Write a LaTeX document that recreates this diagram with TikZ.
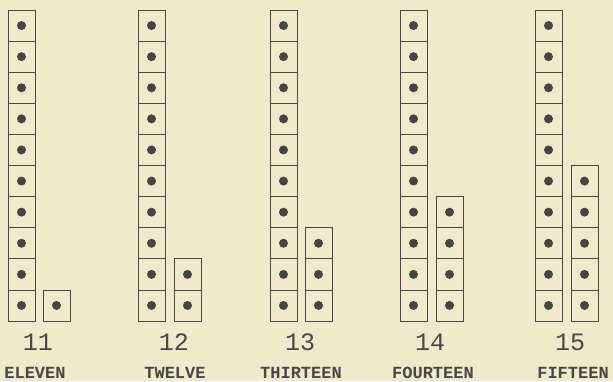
\documentclass[tikz,border=0pt]{standalone}
\usepackage{fontspec}
\setmonofont{Liberation Mono}
\definecolor{paper}{HTML}{EFE9CE}
\definecolor{ink}{HTML}{4A4840}
\definecolor{dotc}{HTML}{47463D}
\begin{document}
\begin{tikzpicture}[x=1pt,y=-1pt,
  cell/.style={draw=ink, line width=0.8pt, minimum width=27pt, minimum height=31.1pt, inner sep=0pt, outer sep=0pt, anchor=south west},
  bead/.style={circle, fill=dotc, minimum size=9pt, inner sep=0pt},
  num/.style={font=\ttfamily\fontsize{25}{25}\selectfont, text=ink, anchor=base, inner sep=0pt},
  word/.style={font=\ttfamily\bfseries\fontsize{17}{17}\selectfont, text=ink, anchor=base, inner sep=0pt}]
\fill[paper] (0,0) rectangle (613,381);
\useasboundingbox (0,0) rectangle (613,381);
\foreach \n/\tx/\sx/\k/\nx/\wx/\w in {11/8/43/1/38/35/ELEVEN, 12/138/174/2/174/175/TWELVE, 13/270/305/3/300/301/THIRTEEN, 14/400/436/4/430/433/FOURTEEN, 15/535/571/5/570/573/FIFTEEN}{
  \foreach \i in {1,...,10}{
    \node[cell] (t\n-\i) at (\tx, {321-(\i-1)*31.1}) {};
    \node[bead] (tb\n-\i) at (t\n-\i.center) {};
  }
  \foreach \i in {1,...,\k}{
    \node[cell] (s\n-\i) at (\sx, {321-(\i-1)*31.1}) {};
    \node[bead] (sb\n-\i) at (s\n-\i.center) {};
  }
  \node[num] (n\n) at (\nx,350) {\n};
  \node[word] (w\n) at (\wx,378) {\w};
}
\end{tikzpicture}
\end{document}
